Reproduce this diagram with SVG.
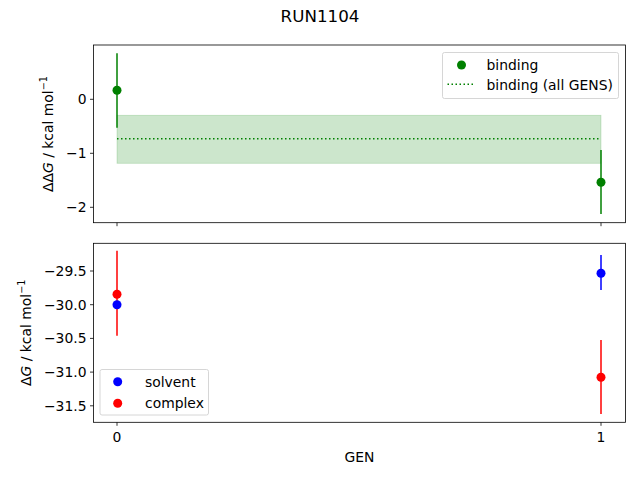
<svg xmlns="http://www.w3.org/2000/svg" width="640" height="480" viewBox="0 0 640 480">
<style>
text{font-family:"DejaVu Sans",sans-serif;font-size:13.9px;fill:#000}
.yt{text-anchor:end;dominant-baseline:central}
.xt{text-anchor:middle}
.sup{font-size:9.7px}
.ax{fill:none;stroke:#000;stroke-width:0.8}
.tk{stroke:#000;stroke-width:0.8}
.leg{fill:#fff;fill-opacity:0.8;stroke:#ccc;stroke-width:0.8}
</style>
<rect width="640" height="480" fill="#fff"/>
<text x="320" y="22" text-anchor="middle" style="font-size:16.7px">RUN1104</text>

<g id="top-axes">
<rect x="117" y="115.3" width="484" height="48" fill="#008000" fill-opacity="0.2" stroke="#008000" stroke-opacity="0.2" stroke-width="0.8"/>
<line x1="117" y1="138.7" x2="601" y2="138.7" stroke="#008000" stroke-width="1.5" stroke-dasharray="1.5,2.5"/>
<g stroke="#008000" stroke-width="1.5">
<line x1="117" y1="53.3" x2="117" y2="127.7"/>
<line x1="601" y1="150" x2="601" y2="214"/>
</g>
<circle cx="117" cy="90.3" r="4.5" fill="#008000"/>
<circle cx="601" cy="182.3" r="4.5" fill="#008000"/>
<rect class="ax" x="93.5" y="45" width="532" height="177.7"/>
<g class="tk">
<line x1="93.5" y1="99.3" x2="90" y2="99.3"/>
<line x1="93.5" y1="153.3" x2="90" y2="153.3"/>
<line x1="93.5" y1="207.3" x2="90" y2="207.3"/>
<line x1="117" y1="222.7" x2="117" y2="226.2"/>
<line x1="601" y1="222.7" x2="601" y2="226.2"/>
</g>
<text class="yt" x="86.5" y="99.3">0</text>
<text class="yt" x="86.5" y="153.3">−1</text>
<text class="yt" x="86.5" y="207.3">−2</text>
<text transform="translate(52.5,134) rotate(-90)" text-anchor="middle">ΔΔ<tspan font-style="italic">G</tspan> / kcal mol<tspan class="sup" dy="-5.5">−1</tspan></text>
<g id="legend-top">
<rect class="leg" x="442.5" y="52.5" width="176" height="46" rx="2"/>
<circle cx="461.5" cy="65" r="4.5" fill="#008000"/>
<line x1="447.5" y1="84.3" x2="475.5" y2="84.3" stroke="#008000" stroke-width="1.5" stroke-dasharray="1.5,2.5"/>
<text x="486.5" y="70">binding</text>
<text x="486.5" y="89.5">binding (all GENS)</text>
</g>
</g>

<g id="bottom-axes">
<g stroke-width="1.5">
<line x1="117" y1="250.7" x2="117" y2="335.7" stroke="#ff0000"/>
<line x1="601" y1="255" x2="601" y2="290" stroke="#0000ff"/>
<line x1="601" y1="340" x2="601" y2="414" stroke="#ff0000"/>
</g>
<circle cx="117" cy="304.7" r="4.5" fill="#0000ff"/>
<circle cx="601" cy="273.3" r="4.5" fill="#0000ff"/>
<circle cx="117" cy="294.3" r="4.5" fill="#ff0000"/>
<circle cx="601" cy="377.3" r="4.5" fill="#ff0000"/>
<rect class="ax" x="93.5" y="243.3" width="532" height="179"/>
<g class="tk">
<line x1="93.5" y1="271" x2="90" y2="271"/>
<line x1="93.5" y1="304.7" x2="90" y2="304.7"/>
<line x1="93.5" y1="338.4" x2="90" y2="338.4"/>
<line x1="93.5" y1="372.1" x2="90" y2="372.1"/>
<line x1="93.5" y1="405.8" x2="90" y2="405.8"/>
<line x1="117" y1="422.3" x2="117" y2="425.8"/>
<line x1="601" y1="422.3" x2="601" y2="425.8"/>
</g>
<text class="yt" x="86.5" y="271">−29.5</text>
<text class="yt" x="86.5" y="304.7">−30.0</text>
<text class="yt" x="86.5" y="338.4">−30.5</text>
<text class="yt" x="86.5" y="372.1">−31.0</text>
<text class="yt" x="86.5" y="405.8">−31.5</text>
<text class="xt" x="117" y="441.5">0</text>
<text class="xt" x="601" y="441.5">1</text>
<text class="xt" x="359.5" y="462">GEN</text>
<text transform="translate(30.5,332.8) rotate(-90)" text-anchor="middle">Δ<tspan font-style="italic">G</tspan> / kcal mol<tspan class="sup" dy="-5.5">−1</tspan></text>
<g id="legend-bottom">
<rect class="leg" x="100" y="369.5" width="108.5" height="45.5" rx="2"/>
<circle cx="117.7" cy="381.7" r="4.5" fill="#0000ff"/>
<circle cx="117.7" cy="403.3" r="4.5" fill="#ff0000"/>
<text x="145" y="386.5">solvent</text>
<text x="145" y="408">complex</text>
</g>
</g>
</svg>
